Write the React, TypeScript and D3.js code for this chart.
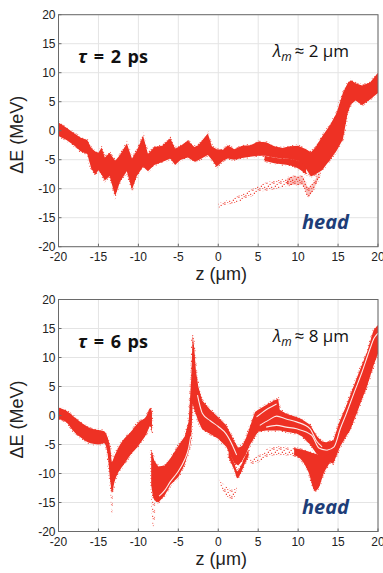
import * as d3 from "d3";

const zTicks = [-20, -15, -10, -5, 0, 5, 10, 15, 20];
const eTicks = [-20, -15, -10, -5, 0, 5, 10, 15, 20];

// bands: [z (um), upper dE (MeV), lower dE (MeV)]
// tau = 2 ps
const shortMain = [
  [-20, 1.4, -0.9], [-19, 0.5, -1.6], [-18, -0.5, -2.6], [-17.2, -1.2, -3.6],
  [-16.4, -1.6, -4.0], [-15.9, -3.0, -6.5], [-15.4, -3.6, -7.6], [-15.0, -3.8, -6.8],
  [-14.6, -2.9, -7.6], [-14.2, -4.6, -8.6], [-13.6, -3.8, -7.8], [-12.9, -5.2, -11.3],
  [-12.3, -4.2, -8.8], [-11.45, -2.2, -7.0], [-10.8, -4.8, -10.2], [-10.2, -3.4, -7.8],
  [-9.4, -0.9, -6.2], [-8.8, -4.0, -7.0], [-8.0, -2.8, -5.9], [-7.0, -2.6, -5.4],
  [-6.0, -1.3, -4.8], [-5.4, -3.1, -5.9], [-4.7, -2.6, -5.0], [-3.8, -1.7, -4.6],
  [-3.0, -2.8, -5.3], [-2.5, -2.5, -5.1], [-1.3, -0.5, -4.2], [-0.8, -2.7, -5.0],
  [-0.2, -3.2, -6.2], [0.6, -3.3, -5.2], [1.2, -2.5, -4.8], [2.0, -3.2, -5.0],
  [3.0, -2.6, -4.7], [4.0, -2.5, -4.5], [5.0, -1.9, -4.3], [6.0, -2.0, -4.3],
  [7.0, -2.7, -4.6], [8.0, -3.0, -4.8], [9.0, -2.7, -4.9], [10.0, -2.6, -5.2],
  [11.0, -3.2, -6.6], [11.6, -3.7, -7.9], [12.2, -2.8, -7.5], [13.0, -1.0, -6.8],
  [14.0, 1.0, -5.0], [14.8, 3.0, -3.5], [15.6, 6.5, -1.5], [16.2, 8.2, 3.0],
  [16.6, 8.7, 4.5], [17.2, 8.2, 5.2], [18.0, 7.8, 4.4], [19.0, 8.3, 5.4], [20, 10.0, 6.5],
];
const shortSubStrand = [
  [5.8, -4.3, -5.2], [7.0, -4.6, -5.6], [8.0, -4.8, -5.8], [9.0, -4.9, -6.0],
  [10.0, -5.2, -6.5], [11.0, -6.3, -7.5],
];
const shortTailSparse = [
  [0.0, -12.5, -13.3], [1.5, -11.8, -12.7], [3.0, -10.9, -12.0], [4.2, -10.1, -11.3],
  [5.2, -9.3, -10.5], [6.3, -8.8, -10.3], [7.3, -8.6, -10.0], [8.3, -8.3, -9.7], [9.4, -7.9, -9.3],
];
const shortTailDense = [
  [8.6, -8.2, -9.4], [9.4, -7.9, -9.3], [10.5, -7.9, -9.3], [11.3, -9.8, -11.3],
  [11.9, -9.0, -10.2], [12.7, -6.8, -7.8],
];

// tau = 6 ps
const longLeft = [
  [-20, 1.4, -0.6], [-19, 0.8, -1.2], [-18, -0.3, -2.9], [-17, -1.4, -4.0],
  [-16, -2.2, -4.8], [-15, -2.5, -5.0], [-14.3, -2.7, -4.8], [-13.9, -3.6, -6.2],
  [-13.5, -5.8, -11.5], [-13.3, -8.0, -13.3], [-13.0, -7.0, -11.5], [-12.5, -5.5, -9.8],
  [-12.0, -4.4, -8.8], [-11.0, -2.9, -6.8], [-10.0, -1.2, -5.2], [-9.0, -0.1, -3.2],
  [-8.5, 1.3, -1.8], [-8.3, 0.6, -3.0],
];
const longRight = [
  [-8.4, -6.0, -12.0], [-8.2, -6.8, -13.8], [-8.0, -7.8, -14.6], [-7.5, -8.8, -15.0],
  [-6.7, -8.6, -13.8], [-6.0, -7.4, -12.0], [-5.0, -5.2, -10.6], [-4.2, -3.6, -8.4],
  [-3.7, -1.0, -6.2], [-3.4, 6.0, -4.4], [-3.2, 13.9, 2.0], [-3.0, 11.5, 1.0],
  [-2.8, 7.8, 0.2], [-2.5, 5.0, -1.0], [-2.0, 2.6, -2.4], [-1.0, 1.0, -3.2],
  [0.0, -0.3, -4.0], [1.0, -1.7, -5.4], [2.0, -4.4, -8.2], [2.5, -5.6, -8.6],
  [3.0, -5.2, -7.8], [3.5, -3.8, -6.5], [4.0, -1.8, -5.0], [4.6, 0.6, -3.6],
  [5.0, 1.0, -2.8], [6.0, 1.8, -2.6], [7.0, 2.6, -2.6], [7.5, 2.9, -2.6],
  [7.7, 1.0, -2.6], [8.5, 0.3, -2.8], [9.8, -0.25, -3.1], [10.5, -0.7, -3.6],
  [11.5, -1.6, -5.0], [12.3, -3.5, -6.6], [13.0, -4.5, -7.4], [13.5, -4.6, -7.8],
  [14.4, -4.3, -8.3], [15.25, -0.8, -5.4], [16.0, 1.6, -3.6], [16.5, 3.4, -2.6],
  [17.4, 6.7, 0.6], [18.0, 8.8, 2.8], [18.6, 10.8, 4.9], [19.45, 14.75, 8.6],
  [20, 15.6, 10.7],
];
const longHook = [
  [1.3, -6.0, -7.2], [2.0, -8.2, -9.4], [2.4, -9.6, -10.8], [2.8, -8.8, -10.0],
  [3.3, -7.2, -8.4], [3.8, -6.0, -7.0],
];
const longHead = [
  [9.5, -5.6, -6.8], [10.5, -5.9, -7.8], [11.3, -6.2, -9.8], [12.1, -6.6, -13.0],
  [12.6, -6.8, -12.4], [13.2, -7.0, -10.0], [14.0, -6.5, -8.0], [14.5, -5.5, -6.5],
];
const longLowSparse = [
  [4.0, -7.6, -8.8], [5.0, -6.9, -8.1], [6.5, -5.5, -7.0], [8.0, -5.3, -6.8],
  [9.0, -5.6, -7.0], [10.0, -5.8, -7.2], [11.0, -6.2, -7.6],
];
const longDotsSparse = [
  [0.2, -11.0, -11.8], [1.0, -12.3, -14.0], [1.8, -12.8, -14.6], [2.3, -12.0, -13.0],
];
const longTailA = [[-13.5, -11.5, -13.0], [-13.35, -12.5, -17.4], [-13.2, -12.0, -15.5]];
const longTailB = [[-8.4, -13.0, -15.0], [-8.15, -14.0, -19.3], [-7.9, -14.5, -17.5]];

// white gaps between strands: [z, dE]
const gapLeft = [[-7.4, -13.9], [-6.7, -12.9], [-6.0, -11.4], [-5.0, -9.6], [-4.2, -7.6], [-3.7, -5.6], [-3.45, -3.6]];
const gapSpike = [[-2.6, 3.5], [-2.0, 0.4], [-1.0, -0.9], [0.0, -1.9], [1.0, -3.2], [1.8, -5.2], [2.3, -6.8]];
const gapMid1 = [[4.8, -0.25], [6.0, 1.0], [7.3, 2.0]];
const gapMid2 = [[5.2, -1.7], [6.3, -0.8], [7.3, -0.1], [8.5, -0.6], [9.8, -1.1], [11.5, -2.3], [12.3, -4.4], [13.0, -5.4]];
const gapMid3 = [[6.0, -2.0], [7.3, -1.7], [8.5, -2.0], [9.8, -2.3], [11.7, -3.4], [12.6, -5.6], [13.6, -6.0]];
const gapRight = [[13.6, -6.0], [14.5, -5.4], [15.3, -2.2], [16.0, 0.2], [17.0, 3.9], [18.0, 7.5], [19.0, 11.5], [19.5, 13.3], [20, 14.2]];

const RED = "#ee3124";
const NAVY = "#1d3d78";
const LEFT = 58.5;
const RIGHT = 378;
const PH = 232;

function Panel({ id, top, solid, light, sparse, gaps, tau, lam }) {
  const x = d3.scaleLinear().domain([-20, 20]).range([LEFT, RIGHT]);
  const y = d3.scaleLinear().domain([-20, 20]).range([top + PH, top]);
  const makeArea = (curve) =>
    d3
      .area()
      .x((d) => x(d[0]))
      .y0((d) => y(d[2]))
      .y1((d) => y(d[1]))
      .curve(curve);
  const area = makeArea(d3.curveMonotoneX);
  const areaSharp = makeArea(d3.curveLinear);
  const line = d3
    .line()
    .x((d) => x(d[0]))
    .y((d) => y(d[1]))
    .curve(d3.curveMonotoneX);

  return (
    <g>
      <defs>
        <clipPath id={"clip" + id}>
          <rect x={LEFT} y={top} width={RIGHT - LEFT} height={PH} />
        </clipPath>
      </defs>
      <rect x={LEFT} y={top} width={RIGHT - LEFT} height={PH} fill="#fff" />
      {zTicks.map((t) => (
        <line key={"gx" + t} x1={x(t)} x2={x(t)} y1={top} y2={top + PH} stroke="#e4e4e4" />
      ))}
      {eTicks.map((t) => (
        <line key={"gy" + t} x1={LEFT} x2={RIGHT} y1={y(t)} y2={y(t)} stroke="#e4e4e4" />
      ))}
      <g clipPath={`url(#clip${id})`}>
        {sparse.map((b, i) => (
          <path key={"s" + i} d={area(b)} fill="url(#speckle)" />
        ))}
        {light.map((b, i) => (
          <g key={"l" + i}>
            <path d={area(b)} fill={RED} fillOpacity={0.3} />
            <path d={area(b)} fill="url(#speckle)" stroke="url(#speckle)" strokeWidth={2} />
          </g>
        ))}
        {solid.map((b, i) => (
          <path
            key={"m" + i}
            d={(b.sharp ? areaSharp : area)(b.data)}
            fill={RED}
            stroke="url(#speckle)"
            strokeWidth={2.4}
          />
        ))}
        {gaps.map((g, i) => (
          <path key={"g" + i} d={line(g)} fill="none" stroke="#fff" strokeWidth={1.1} strokeOpacity={0.9} />
        ))}
      </g>
      <rect x={LEFT} y={top} width={RIGHT - LEFT} height={PH} fill="none" stroke="#6a6a6a" strokeWidth={1} />
      {zTicks.map((t) => (
        <g key={"tx" + t}>
          <line x1={x(t)} x2={x(t)} y1={top + PH} y2={top + PH - 3} stroke="#6a6a6a" />
          <text x={x(t)} y={top + PH + 14} textAnchor="middle" fontSize={12} fill="#222">
            {t}
          </text>
        </g>
      ))}
      {eTicks.map((t) => (
        <g key={"ty" + t}>
          <line x1={LEFT} x2={LEFT + 3} y1={y(t)} y2={y(t)} stroke="#6a6a6a" />
          <text x={LEFT - 3} y={y(t) + 4} textAnchor="end" fontSize={12} fill="#222">
            {t}
          </text>
        </g>
      ))}
      <text x={(LEFT + RIGHT) / 2 + 3} y={top + PH + 33} textAnchor="middle" fontSize={18} fill="#222">
        z (μm)
      </text>
      <text
        transform={`translate(23,${top + 120}) rotate(-90)`}
        textAnchor="middle"
        fontSize={18}
        fill="#222"
      >
        ΔE (MeV)
      </text>
      <text
        x={78}
        y={top + 48}
        fontFamily="'Open Sans', sans-serif"
        fontWeight="bold"
        fontSize={18}
        wordSpacing={2}
        fill="#111"
      >
        <tspan fontStyle="italic">τ</tspan> = {tau} ps
      </text>
      <text x={273} y={top + 42} fontFamily="'Open Sans', sans-serif" fontSize={17} fill="#111">
        <tspan fontStyle="italic">λ</tspan>
        <tspan fontStyle="italic" fontSize={12} dy={4}>m</tspan>
        <tspan dy={-4}>{"\u2009≈ " + lam + " μm"}</tspan>
      </text>
      <text
        x={302}
        y={top + 214}
        fontFamily="'Open Sans', sans-serif"
        fontWeight="bold"
        fontStyle="italic"
        fontSize={20}
        fill={NAVY}
      >
        head
      </text>
    </g>
  );
}

export default function App() {
  return (
    <svg
      width={383}
      height={573}
      style={{ position: "absolute", left: 0, top: 0, background: "#fff" }}
      fontFamily="'Liberation Sans', Arial, sans-serif"
    >
      <defs>
        <pattern id="speckle" width={7} height={7} patternUnits="userSpaceOnUse">
          <rect x={0.3} y={0.6} width={1.2} height={1.2} fill={RED} />
          <rect x={3.6} y={1.9} width={1.1} height={1.1} fill={RED} />
          <rect x={5.7} y={0.2} width={1} height={1} fill={RED} />
          <rect x={1.8} y={3.7} width={1.2} height={1.2} fill={RED} />
          <rect x={5.1} y={4.8} width={1.1} height={1.1} fill={RED} />
          <rect x={0.4} y={5.9} width={1} height={1} fill={RED} />
          <rect x={3.3} y={6.0} width={0.9} height={0.9} fill={RED} />
        </pattern>
      </defs>
      <Panel
        id="a"
        top={14.7}
        solid={[{ data: shortMain, sharp: true }, { data: shortSubStrand }]}
        light={[shortTailDense]}
        sparse={[shortTailSparse]}
        gaps={[]}
        tau={2}
        lam={2}
      />
      <Panel
        id="b"
        top={299.5}
        solid={[{ data: longLeft }, { data: longRight, sharp: true }, { data: longHook }, { data: longHead }]}
        light={[]}
        sparse={[longLowSparse, longDotsSparse, longTailA, longTailB]}
        gaps={[gapLeft, gapSpike, gapMid1, gapMid2, gapMid3, gapRight]}
        tau={6}
        lam={8}
      />
    </svg>
  );
}
